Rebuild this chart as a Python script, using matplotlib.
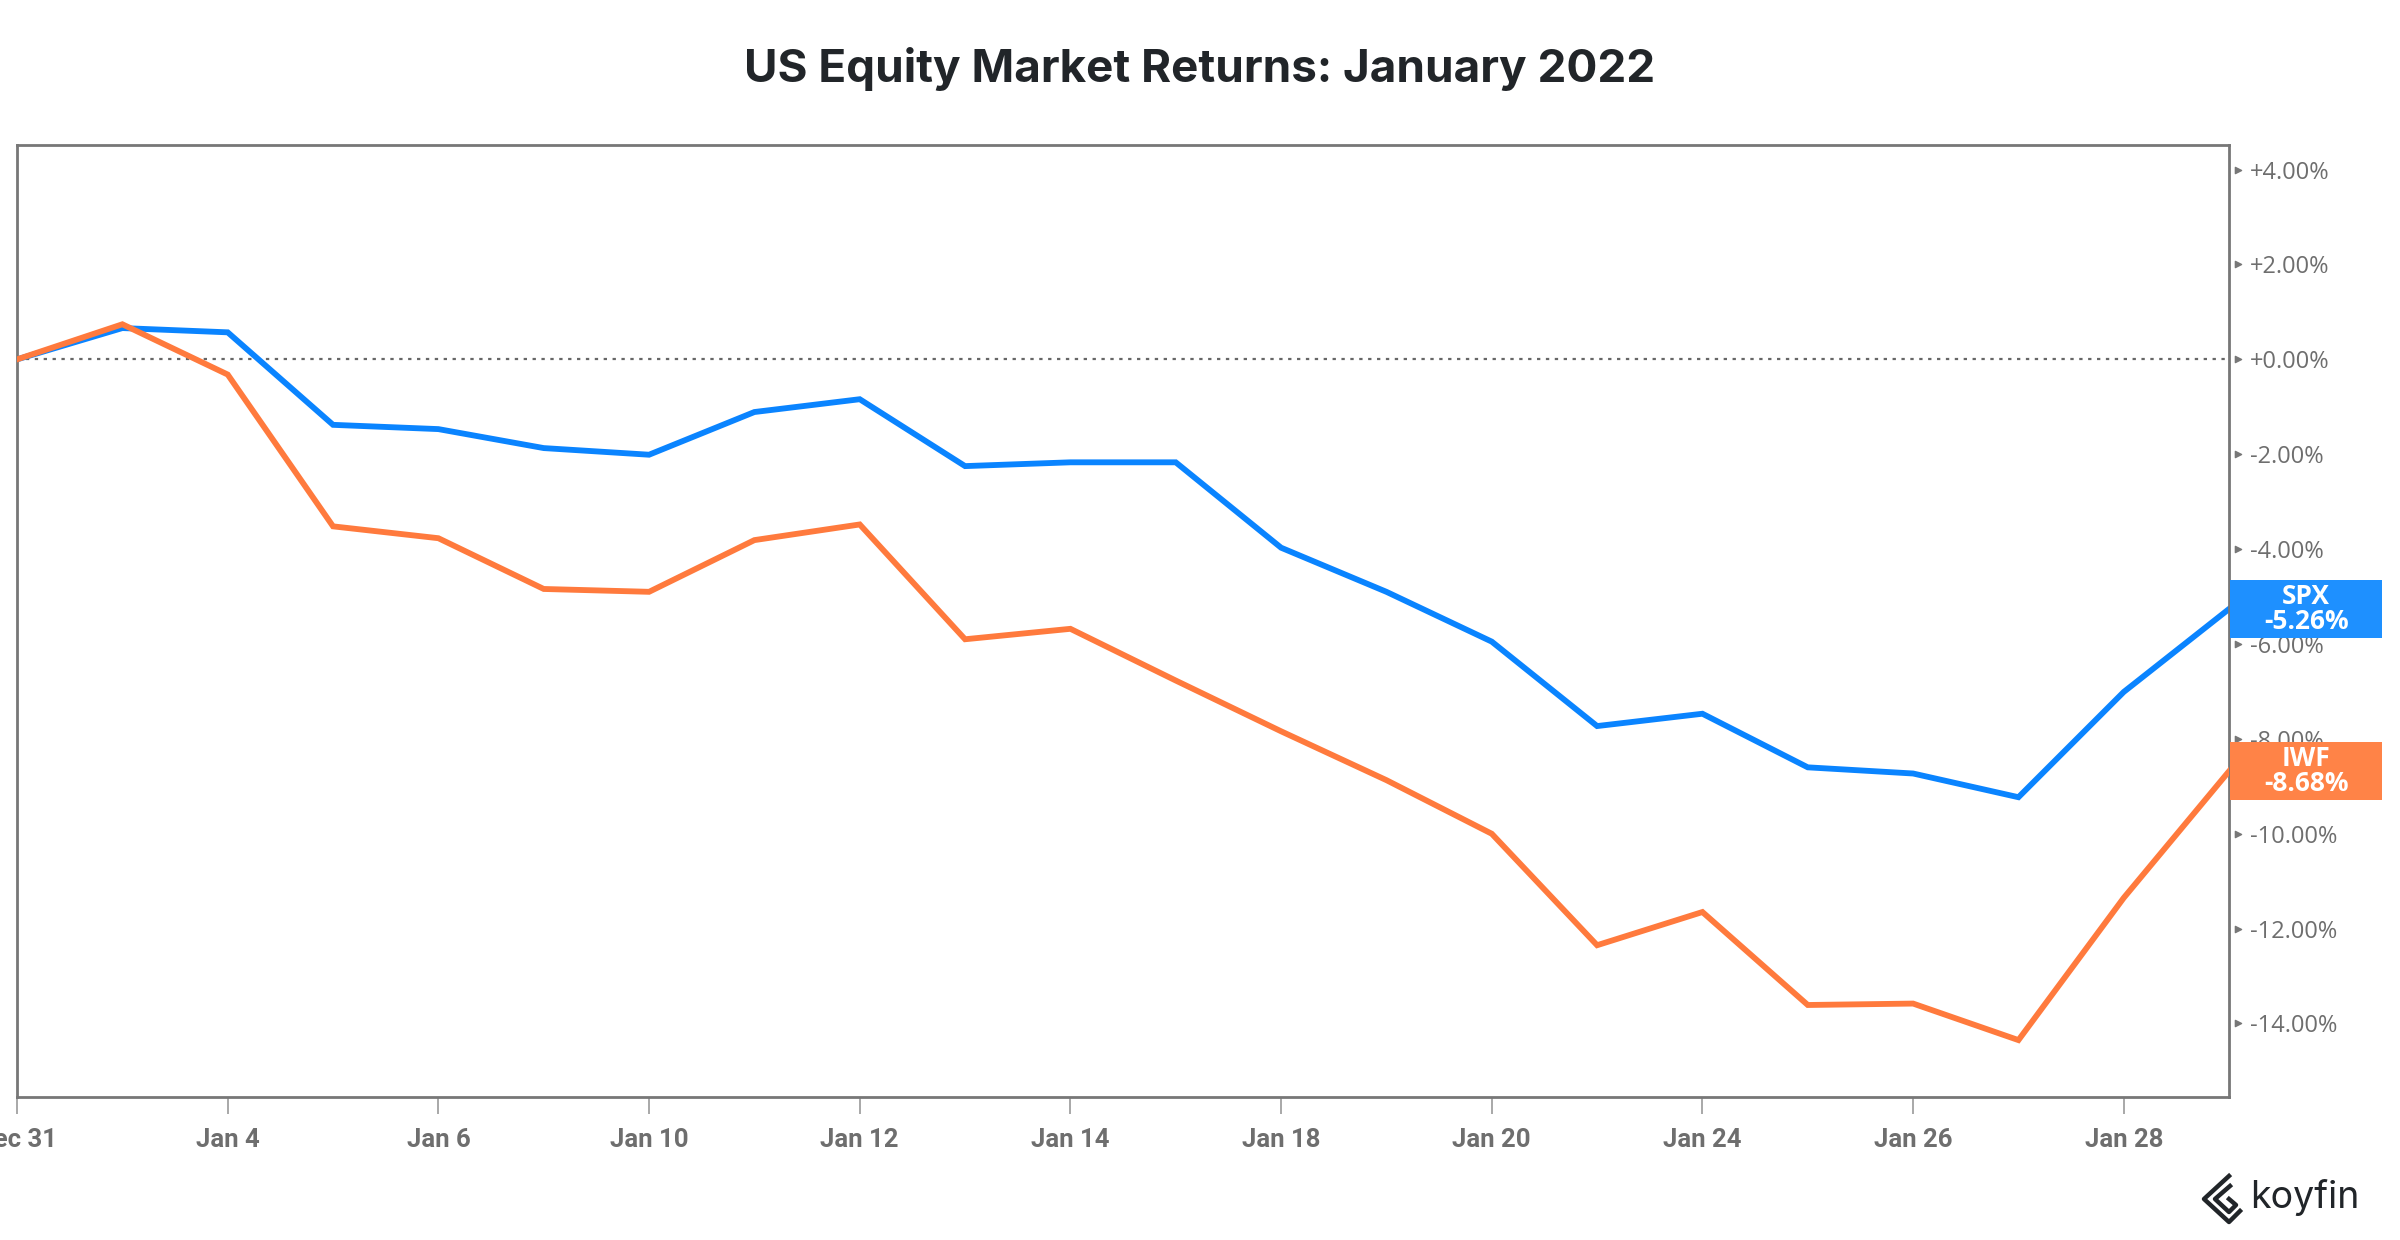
import matplotlib
matplotlib.use('Agg')
import matplotlib.pyplot as plt
from matplotlib.patches import Rectangle
from matplotlib.transforms import IdentityTransform

# trading days, Dec 31 2021 to Jan 31 2022 (Jan 17 holiday carried flat)
fechas = ['Dec 31', 'Jan 3', 'Jan 4', 'Jan 5', 'Jan 6', 'Jan 7', 'Jan 10', 'Jan 11',
          'Jan 12', 'Jan 13', 'Jan 14', 'Jan 17', 'Jan 18', 'Jan 19', 'Jan 20',
          'Jan 21', 'Jan 24', 'Jan 25', 'Jan 26', 'Jan 27', 'Jan 28', 'Jan 31']
spx = [0.0, 0.66, 0.57, -1.38, -1.47, -1.87, -2.01, -1.11, -0.84, -2.25, -2.17,
       -2.17, -3.97, -4.90, -5.95, -7.73, -7.47, -8.60, -8.73, -9.23, -7.01, -5.26]
iwf = [0.0, 0.74, -0.32, -3.52, -3.77, -4.84, -4.90, -3.81, -3.48, -5.90, -5.68,
       -6.77, -7.84, -8.87, -10.0, -12.35, -11.65, -13.61, -13.58, -14.35, -11.35, -8.68]
etiquetas_x = ['Dec 31', 'Jan 4', 'Jan 6', 'Jan 10', 'Jan 12', 'Jan 14', 'Jan 18',
               'Jan 20', 'Jan 24', 'Jan 26', 'Jan 28']
ticks_y = [4, 2, 0, -2, -4, -6, -8, -10, -12, -14]

azul = '#0a84ff'
naranja = '#ff7a3d'
gris = '#777777'

fig = plt.figure(figsize=(24, 12.4), dpi=100)
ax = fig.add_axes([0.0071, 0.1153, 0.9217, 0.7678])

x = list(range(len(fechas)))
ax.axhline(0, color='#666666', lw=1.6, ls=(0, (1.5, 2.5)), zorder=1)
ax.plot(x, iwf, color=naranja, lw=4.2, solid_joinstyle='miter', zorder=3)
ax.plot(x, spx, color=azul, lw=4.2, solid_joinstyle='miter', zorder=2)

ax.set_xlim(0, len(fechas) - 1)
ax.set_ylim(-15.55, 4.52)

for s in ax.spines.values():
    s.set_color(gris)
    s.set_linewidth(2)

pos_x = [fechas.index(e) for e in etiquetas_x]
ax.set_xticks(pos_x)
ax.set_xticklabels(etiquetas_x, fontsize=18.5, fontweight='bold', color='#6e6e6e',
                   family=['Liberation Sans Narrow', 'Roboto'])
ax.tick_params(axis='x', length=12, width=1.2, color='#999999', pad=10)

ax.yaxis.tick_right()
ax.set_yticks(ticks_y)
ax.set_yticklabels([f'{v:+.2f}%' for v in ticks_y], fontsize=17, color='#6e6e6e',
                   family=['Open Sans', 'DejaVu Sans'])
ax.tick_params(axis='y', length=0, pad=15)
ax.scatter([1.004] * len(ticks_y), ticks_y, marker='>', s=20, color='#777777',
           transform=ax.get_yaxis_transform(), clip_on=False, zorder=5)

# recuadros con el ultimo valor
for nombre, serie, fondo in [('SPX', spx, '#1e90ff'), ('IWF', iwf, '#ff8347')]:
    px, py = ax.get_yaxis_transform().transform((1, serie[-1]))
    caja = Rectangle((px + 1, py - 29), 152, 58, transform=IdentityTransform(),
                     facecolor=fondo, edgecolor='none', zorder=6)
    fig.add_artist(caja)
    fig.text(px + 77, py, f'{nombre}\n{serie[-1]:.2f}%', transform=IdentityTransform(),
             ha='center', va='center', color='white', fontsize=19, fontweight='bold',
             linespacing=0.9, family=['Open Sans', 'DejaVu Sans'], zorder=7)

fig.text(0.5, 0.944, 'US Equity Market Returns: January 2022', ha='center', va='center',
         fontsize=33, fontweight='bold', color='#212529', family=['Inter', 'DejaVu Sans'])

# logo koyfin
fig.add_artist(plt.Line2D([2229, 2204, 2229, 2240], [1240 - 1176, 1240 - 1199, 1240 - 1222, 1240 - 1211],
                          transform=IdentityTransform(), color='#212529', lw=3.2))
fig.add_artist(plt.Line2D([2230, 2215, 2229, 2236, 2229], [1240 - 1186, 1240 - 1199, 1240 - 1212, 1240 - 1205, 1240 - 1199],
                          transform=IdentityTransform(), color='#212529', lw=3.2))
fig.text(2250, 1240 - 1198, 'koyfin', transform=IdentityTransform(), ha='left', va='center',
         fontsize=27, color='#212529', family=['Inter', 'DejaVu Sans'])

fig.savefig('out.png', dpi=100, facecolor='white')
